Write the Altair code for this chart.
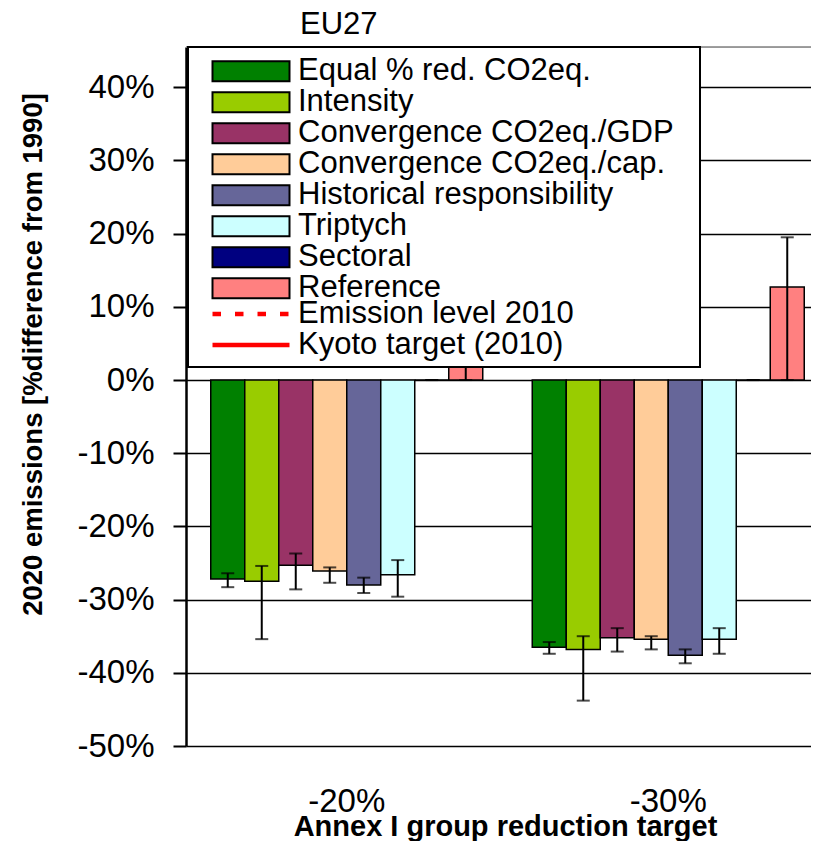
import altair as alt
import pandas as pd

# ---- data ----
groups = ["-20%", "-30%"]
series = [
    "Equal % red. CO2eq.",
    "Intensity",
    "Convergence CO2eq./GDP",
    "Convergence CO2eq./cap.",
    "Historical responsibility",
    "Triptych",
    "Sectoral",
    "Reference",
]
colors = ["#008000", "#99CC00", "#993366", "#FFCC99", "#666699", "#CCFFFF", "#000080", "#FF8080"]

values_20 = [-27.2, -27.5, -25.3, -26.1, -28.0, -26.6, 0.0, 1.8]
values_30 = [-36.5, -36.8, -35.2, -35.4, -37.6, -35.4, 0.0, 12.7]
err_lo_20 = [-28.3, -35.4, -28.6, -27.7, -29.1, -29.6, 0.0, 0.0]
err_hi_20 = [-26.4, -25.4, -23.7, -25.6, -27.0, -24.6, 0.0, 8.0]
err_lo_30 = [-37.4, -43.8, -37.1, -36.8, -38.7, -37.4, 0.0, 0.0]
err_hi_30 = [-35.8, -35.0, -33.9, -35.0, -36.8, -33.9, 0.0, 19.5]

line_names = ["Emission level 2010", "Kyoto target (2010)"]
y_ticks = [-50, -40, -30, -20, -10, 0, 10, 20, 30, 40]

rows = []
for g, vals, lo, hi in [(groups[0], values_20, err_lo_20, err_hi_20),
                        (groups[1], values_30, err_lo_30, err_hi_30)]:
    for s, v, l, h in zip(series, vals, lo, hi):
        rows.append({"group": g, "series": s, "value": v, "lo": l, "hi": h})
df = pd.DataFrame(rows)

FONT = "Liberation Sans"

x_enc = alt.X(
    "group:N",
    sort=groups,
    scale=alt.Scale(domain=groups, range=[0, 643], paddingInner=0, paddingOuter=0),
    axis=alt.Axis(
        title="Annex I group reduction target",
        labelAngle=0, domain=False, ticks=False, grid=False,
        labelFontSize=33, labelFont=FONT, labelColor="black", labelPadding=39,
        titleFont=FONT, titleFontSize=29, titleFontWeight="bold", titleColor="black",
        titleX=319, titleY=80, titleBaseline="middle", titleAlign="center",
    ),
)
xoff = alt.XOffset("series:N", sort=series,
                   scale=alt.Scale(domain=series, paddingInner=0, paddingOuter=0.728))

y_scale = alt.Scale(domain=[-50, 45.5], nice=False, zero=False)
y_enc = alt.Y(
    "value:Q",
    scale=y_scale,
    axis=alt.Axis(
        values=y_ticks, labelExpr="datum.value + '%'",
        labelFont=FONT, labelFontSize=33, labelColor="black", labelPadding=19,
        tickSize=13, tickColor="black", tickWidth=2,
        domainColor="black", domainWidth=2.5,
        gridColor="black", gridWidth=1.5,
        title="2020 emissions [%difference from 1990]",
        titleFont=FONT, titleFontSize=27.5,
        titleFontWeight="bold", titleColor="black",
        titleAngle=-90, titleX=-139, titleY=307, titleAlign="center", titleBaseline="bottom",
    ),
)

bars = alt.Chart(df).mark_bar(stroke="black", strokeWidth=1.5).encode(
    x=x_enc,
    xOffset=xoff,
    y=y_enc,
    color=alt.Color(
        "series:N",
        scale=alt.Scale(domain=series, range=colors),
        title=None,
        legend=alt.Legend(
            orient="none", legendX=21, legendY=9.15, padding=0,
            symbolType="M-1,-1H6.7V1H-1Z", symbolSize=400,
            symbolStrokeColor="black", symbolStrokeWidth=2, symbolOpacity=1,
            labelFont=FONT, labelFontSize=31, labelColor="black", labelLimit=600,
            labelOffset=60, clipHeight=30.3, rowPadding=-1.6,
        ),
    ),
)

err = alt.Chart(df).mark_rule(color="black", strokeWidth=2).encode(
    x=alt.X("group:N", sort=groups), xOffset=alt.XOffset("series:N", sort=series),
    y=alt.Y("lo:Q"), y2="hi:Q",
)
cap_lo = alt.Chart(df).mark_tick(color="black", thickness=2, size=13, orient="horizontal").encode(
    x=alt.X("group:N", sort=groups), xOffset=alt.XOffset("series:N", sort=series),
    y=alt.Y("lo:Q"),
)
cap_hi = alt.Chart(df).mark_tick(color="black", thickness=2, size=13, orient="horizontal").encode(
    x=alt.X("group:N", sort=groups), xOffset=alt.XOffset("series:N", sort=series),
    y=alt.Y("hi:Q"),
)

deco = pd.DataFrame({"frame": [0]})
top_border = alt.Chart(deco).mark_rule(color="#808080", strokeWidth=1.5).encode(
    y=alt.value(0)
)
frame = alt.Chart(deco).mark_rect(
    fill="white", stroke="black", strokeWidth=2
).encode(
    x=alt.value(2), x2=alt.value(514), y=alt.value(0), y2=alt.value(320)
)

lines = alt.Chart(pd.DataFrame({"line": pd.Series([], dtype=str), "level": pd.Series([], dtype=float)})).mark_rule(
    color="red"
).encode(
    y=alt.Y("level:Q"),
    strokeDash=alt.StrokeDash(
        "line:N",
        scale=alt.Scale(domain=line_names, range=[[8.5, 14], [1, 0]]),
        title=None,
        legend=alt.Legend(
            orient="none", legendX=21, legendY=251.85, padding=0,
            symbolType="M-1,0H6.7", symbolSize=400,
            symbolStrokeColor="red", symbolStrokeWidth=4.5,
            labelFont=FONT, labelFontSize=31, labelColor="black", labelLimit=600,
            labelOffset=60, clipHeight=30.3, rowPadding=-1.6,
        ),
    ),
)

chart = alt.layer(top_border, bars, err, cap_lo, cap_hi, frame, lines).properties(
    width=625,
    height=699,
    autosize=alt.AutoSizeParams(type="none"),
    padding={"left": 178, "top": 39, "right": 0, "bottom": 95},
    title=alt.TitleParams(
        "EU27", anchor="start", dx=114, fontSize=31, fontWeight="normal",
        offset=5, frame="group", color="black", font=FONT,
    ),
).configure_view(
    strokeWidth=0
).configure(background="white")

chart.save("out.html", embed_options={"renderer": "svg", "actions": False})
